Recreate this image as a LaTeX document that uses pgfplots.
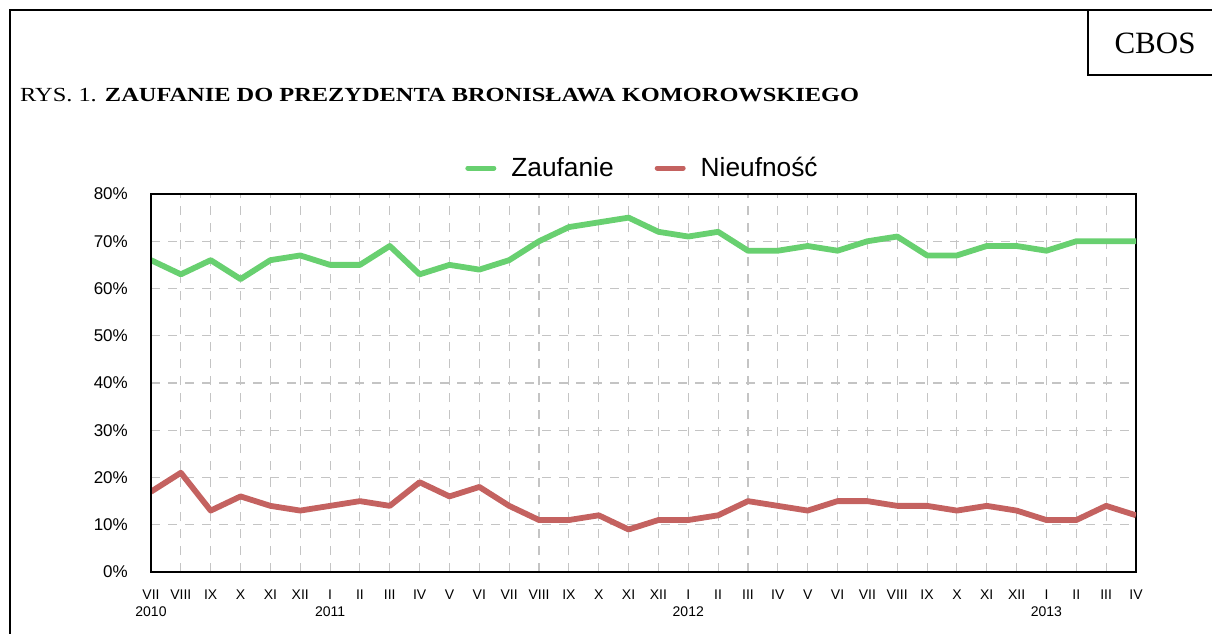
\documentclass[border=0pt]{standalone}
\usepackage{fontspec}
\setmainfont{Liberation Serif}
\newfontfamily\arial{Liberation Sans}
\usepackage{pgfplots}
\usepackage{pgfplotstable}
\pgfplotsset{compat=1.18}
\definecolor{zgreen}{RGB}{104,208,112}
\definecolor{nred}{RGB}{196,98,96}
\definecolor{gridgray}{RGB}{196,196,196}

\pgfplotstableread{
x z n
0 66 17
1 63 21
2 66 13
3 62 16
4 66 14
5 67 13
6 65 14
7 65 15
8 69 14
9 63 19
10 65 16
11 64 18
12 66 14
13 70 11
14 73 11
15 74 12
16 75 9
17 72 11
18 71 11
19 72 12
20 68 15
21 68 14
22 69 13
23 68 15
24 70 15
25 71 14
26 67 14
27 67 13
28 69 14
29 69 13
30 68 11
31 70 11
32 70 14
33 70 12
}\data

\begin{document}
\begin{tikzpicture}
\path[use as bounding box] (0,0) rectangle (1212pt,-634pt);
\draw[line width=2pt] (10pt,-650pt) -- (10pt,-10pt) -- (1215pt,-10pt);
\draw[line width=2pt] (1088pt,-10pt) -- (1088pt,-75pt) -- (1215pt,-75pt);
\node[inner sep=0, font=\fontsize{31}{31}\selectfont] at (1155pt,-43pt) {CBOS};
\node[anchor=base west, inner sep=0, xscale=1.22, font=\fontsize{20}{20}\selectfont] at (20pt,-101pt) {RYS. 1. \textbf{ZAUFANIE DO PREZYDENTA BRONISŁAWA KOMOROWSKIEGO}};
\begin{axis}[
  at={(151pt,-572pt)}, anchor=south west,
  scale only axis, width=985pt, height=378pt,
  xmin=0, xmax=33, ymin=0, ymax=80,
  xtick={0,...,33},
  xticklabels={{VII\\2010},VIII,IX,X,XI,XII,{I\\2011},II,III,IV,V,VI,VII,VIII,IX,X,XI,XII,{I\\2012},II,III,IV,V,VI,VII,VIII,IX,X,XI,XII,{I\\2013},II,III,IV},
  ytick={0,10,...,80},
  yticklabels={0\%,10\%,20\%,30\%,40\%,50\%,60\%,70\%,80\%},
  major tick length=0pt,
  xticklabel style={align=center, anchor=north, inner sep=0pt, yshift=-18pt, font=\arial\fontsize{14}{17}\selectfont},
  yticklabel style={anchor=east, inner sep=0pt, xshift=-23pt, font=\arial\fontsize{17}{17}\selectfont},
  grid=major,
  grid style={gridgray, line width=1.1pt, dash pattern=on 9pt off 8pt},
  axis line style={line width=1.3pt},
  legend columns=2,
  legend cell align=left,
  legend style={draw=none, fill=none, at={(0.5,1)}, anchor=center, xshift=-1pt, yshift=26pt,
    font=\arial\fontsize{26.3}{27}\selectfont,
    /tikz/every odd column/.append style={column sep=13pt},
    /tikz/every even column/.append style={column sep=39pt}},
  legend image code/.code={\draw[#1, line width=5pt, line cap=round] (0pt,0pt) -- (26pt,0pt);},
  after end axis/.code={\draw[line width=2pt] (rel axis cs:0,1) -- (rel axis cs:0,0) -- (rel axis cs:1,0);},
]
\addplot[zgreen, line width=5.8pt, line join=round] table[x=x, y=z] {\data};
\addlegendentry{Zaufanie}
\addplot[nred, line width=5.8pt, line join=round] table[x=x, y=n] {\data};
\addlegendentry{Nieufność}
\end{axis}
\end{tikzpicture}
\end{document}
